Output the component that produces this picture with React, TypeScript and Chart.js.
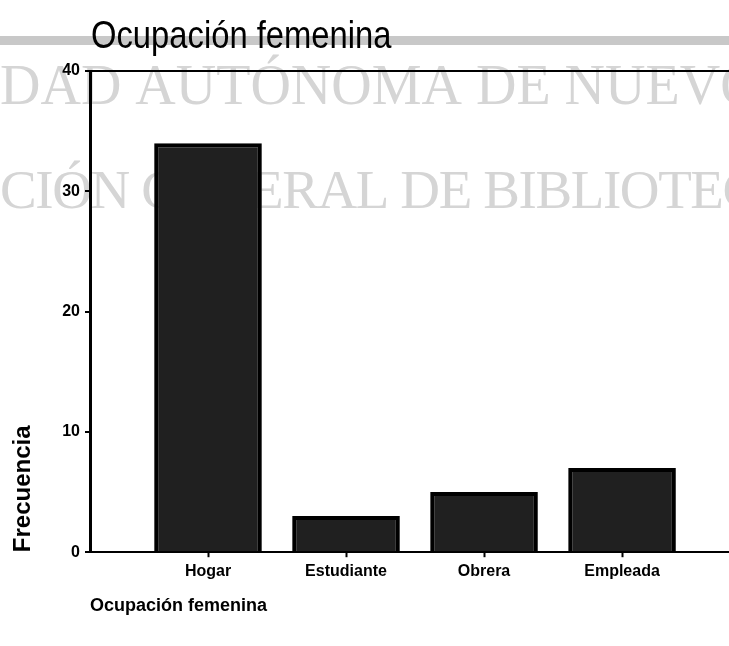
import React, { useEffect, useRef } from "react";
import { Chart, registerables } from "chart.js";

Chart.register(...registerables);

const chartTitle = "Ocupación femenina";
const categories = ["Hogar", "Estudiante", "Obrera", "Empleada"];
const frequencies = [34, 3, 5, 7];
const yTickValues = [0, 10, 20, 30, 40];
const yAxisTitle = "Frecuencia";
const xAxisTitle = "Ocupación femenina";
const watermarkLines = ["DAD AUTÓNOMA DE NUEVO", "CIÓN GENERAL DE BIBLIOTECAS"];

const decorPlugin = {
  id: "decor",
  beforeDraw(chart: any) {
    const ctx = chart.ctx as any;
    const { chartArea, width, height } = chart;
    ctx.save();
    ctx.fillStyle = "#ffffff";
    ctx.fillRect(0, 0, width, height);
    // scanned watermark
    ctx.fillStyle = "#d5d5d5";
    ctx.textBaseline = "alphabetic";
    ctx.textAlign = "left";
    ctx.font = '56px "Liberation Serif", "Times New Roman", serif';
    ctx.letterSpacing = "0px";
    ctx.fillText(watermarkLines[0], 0, 104);
    ctx.font = '55px "Liberation Serif", "Times New Roman", serif';
    ctx.letterSpacing = "-1.4px";
    ctx.fillText(watermarkLines[1], 0, 208);
    ctx.letterSpacing = "0px";
    // grey scan band
    ctx.fillStyle = "#c8c8c8";
    ctx.fillRect(0, 36, width, 9);
    // title
    ctx.fillStyle = "#000000";
    ctx.translate(chartArea.left + 1, 48);
    ctx.scale(0.84, 1);
    ctx.font = '39px "Liberation Sans", Arial, sans-serif';
    ctx.fillText(chartTitle, 0, 0);
    ctx.restore();
  },
};

export default function App() {
  const canvasRef = useRef<HTMLCanvasElement | null>(null);

  useEffect(() => {
    if (!canvasRef.current) return;
    const chart = new Chart(canvasRef.current, {
      type: "bar",
      data: {
        datasets: [
          {
            label: chartTitle,
            data: categories.map((c, i) => ({ x: i + 1, y: frequencies[i] })),
            backgroundColor: "#202020",
            borderColor: "#000000",
            borderWidth: 4,
            borderSkipped: "bottom",
            barPercentage: 0.78,
            categoryPercentage: 1,
          },
        ],
      },
      options: {
        animation: false,
        responsive: true,
        maintainAspectRatio: false,
        layout: { padding: { top: 71, left: 0, right: 0, bottom: 29 } },
        plugins: {
          legend: { display: false },
          tooltip: { enabled: false },
          title: { display: false },
        },
        scales: {
          x: {
            type: "linear",
            offset: false,
            min: 0.145,
            max: 4.775,
            afterBuildTicks: (axis: any) => {
              axis.ticks = categories.map((_, i) => ({ value: i + 1 }));
            },
            ticks: {
              autoSkip: false,
              maxRotation: 0,
              padding: 5,
              color: "#000",
              font: { family: '"Liberation Sans", Arial, sans-serif', size: 16, weight: "bold" },
              callback: (v: any) => categories[Math.round(Number(v)) - 1] ?? "",
            },
            grid: {
              offset: false,
              drawOnChartArea: false,
              drawTicks: true,
              tickLength: 5,
              tickColor: "#000",
              tickWidth: 2,
            },
            border: { display: true, color: "#000", width: 2 },
            title: {
              display: true,
              text: xAxisTitle,
              align: "start",
              color: "#000",
              padding: { top: 9, bottom: 0 },
              font: { family: '"Liberation Sans", Arial, sans-serif', size: 18, weight: "bold" },
            },
          },
          y: {
            min: 0,
            max: 40,
            afterBuildTicks: (axis: any) => {
              axis.ticks = yTickValues.map((v) => ({ value: v }));
            },
            afterFit: (scale: any) => {
              scale.width = 90;
            },
            ticks: {
              padding: 5,
              color: "#000",
              font: { family: '"Liberation Sans", Arial, sans-serif', size: 16, weight: "bold" },
            },
            grid: {
              drawOnChartArea: true,
              drawTicks: true,
              tickLength: 5,
              lineWidth: 2,
              color: (ctx: any) => (ctx.tick && ctx.tick.value === 40 ? "#000" : "rgba(0,0,0,0)"),
              tickColor: "#000",
            },
            border: { display: true, color: "#000", width: 3 },
            title: {
              display: true,
              text: yAxisTitle,
              align: "start",
              color: "#000",
              padding: { top: 9, bottom: 0 },
              font: { family: '"Liberation Sans", Arial, sans-serif', size: 24, weight: "bold" },
            },
          },
        },
      },
      plugins: [decorPlugin],
    } as any);
    return () => chart.destroy();
  }, []);

  return (
    <div style={{ position: "fixed", left: 0, top: 0, width: 729, height: 646, background: "#fff" }}>
      <canvas ref={canvasRef} />
    </div>
  );
}
